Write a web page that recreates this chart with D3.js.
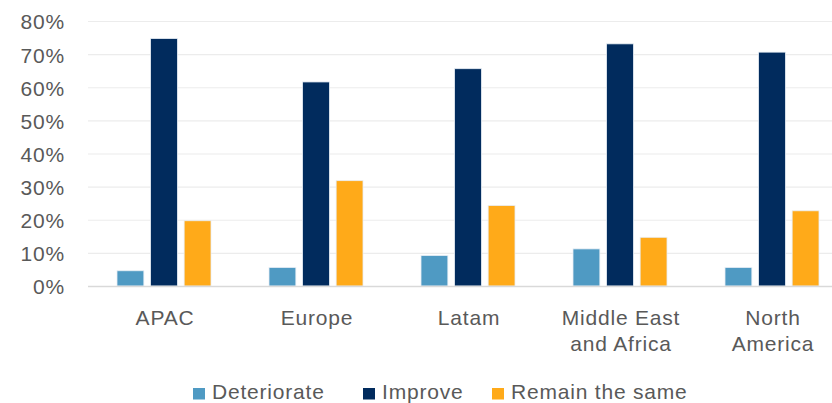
<!DOCTYPE html>
<html>
<head>
<meta charset="utf-8">
<script src="https://cdn.jsdelivr.net/npm/d3@7"></script>
<style>
  body { margin: 0; background: #fff; }
  svg { display: block; font-family: "Liberation Sans", Arial, sans-serif; }
  text { letter-spacing: 0.8px; }
</style>
</head>
<body>
<div id="root"></div>
<script>
// data
const regions = ["APAC", "Europe", "Latam", "Middle East\nand Africa", "North\nAmerica"]
const seriesNames = ["Deteriorate", "Improve", "Remain the same"]
const deteriorate = [4.6, 5.6, 9.2, 11.2, 5.6]
const improve = [74.7, 61.6, 65.6, 73.1, 70.6]
const remainSame = [19.7, 31.8, 24.3, 14.7, 22.7]
const yTicks = [0, 10, 20, 30, 40, 50, 60, 70, 80]
const colors = ["#4f9ac3", "#012b5d", "#ffaa19"]

const width = 832, height = 403
const svg = d3.select("#root").append("svg").attr("width", width).attr("height", height)

// plot runs off the right edge like the original screenshot
const x0 = d3.scaleBand().domain(regions).range([88, 848])
const x1 = d3.scaleBand().domain(seriesNames).range([29, 123]).paddingInner(0.2)
const y = d3.scaleLinear().domain([0, 80]).range([286, 21])

const rows = regions.map((r, i) => ({
    region: r,
    vals: [deteriorate[i], improve[i], remainSame[i]]
}))

// gridlines
svg.append("g").selectAll("line").data(yTicks.slice(1)).join("line")
    .attr("x1", 88).attr("x2", width)
    .attr("y1", d => y(d) + 0.5).attr("y2", d => y(d) + 0.5)
    .attr("stroke", "#ececec").attr("stroke-width", 1.2)

// y axis labels
const yAxis = d3.axisLeft(y).tickValues(yTicks).tickFormat(d => d + "%").tickSize(0).tickPadding(0)
const yg = svg.append("g").attr("transform", "translate(65,0)").call(yAxis)
yg.select(".domain").remove()
yg.selectAll("text").attr("font-size", 21).attr("fill", "#595959")
    .attr("font-family", "Liberation Sans, Arial, sans-serif").attr("dy", "0.38em")

// bars
const groups = svg.append("g").selectAll("g").data(rows).join("g")
    .attr("transform", d => `translate(${x0(d.region)},0)`)
groups.selectAll("rect").data(d => d.vals.map((v, k) => ({ s: seriesNames[k], v: v, k: k }))).join("rect")
    .attr("x", d => x1(d.s))
    .attr("y", d => y(d.v))
    .attr("width", x1.bandwidth())
    .attr("height", d => y(0) - y(d.v))
    .attr("fill", d => colors[d.k])
    .attr("stroke", "#e8eef5").attr("stroke-width", 0.8)

// baseline
svg.append("line").attr("x1", 88).attr("x2", width)
    .attr("y1", y(0) + 0.5).attr("y2", y(0) + 0.5)
    .attr("stroke", "#d9d9d9").attr("stroke-width", 1.5)

// category labels
const xl = svg.append("g").selectAll("text").data(regions).join("text")
    .attr("x", d => x0(d) + x0.bandwidth() / 2 + 1)
    .attr("y", 325)
    .attr("text-anchor", "middle")
    .attr("font-size", 21).attr("fill", "#595959")
xl.selectAll("tspan").data(d => d.split("\n")).join("tspan")
    .attr("x", function () { return d3.select(this.parentNode).attr("x") })
    .attr("dy", (d, i) => i ? 26 : 0)
    .text(d => d)

// legend
const legendX = [193, 363, 492]
const lg = svg.append("g").selectAll("g").data(seriesNames).join("g")
    .attr("transform", (d, i) => `translate(${legendX[i]},388)`)
lg.append("rect").attr("width", 12).attr("height", 11.5).attr("fill", (d, i) => colors[i])
lg.append("text").attr("x", 19).attr("y", 11).attr("font-size", 21).attr("fill", "#595959").text(d => d)
</script>
</body>
</html>
